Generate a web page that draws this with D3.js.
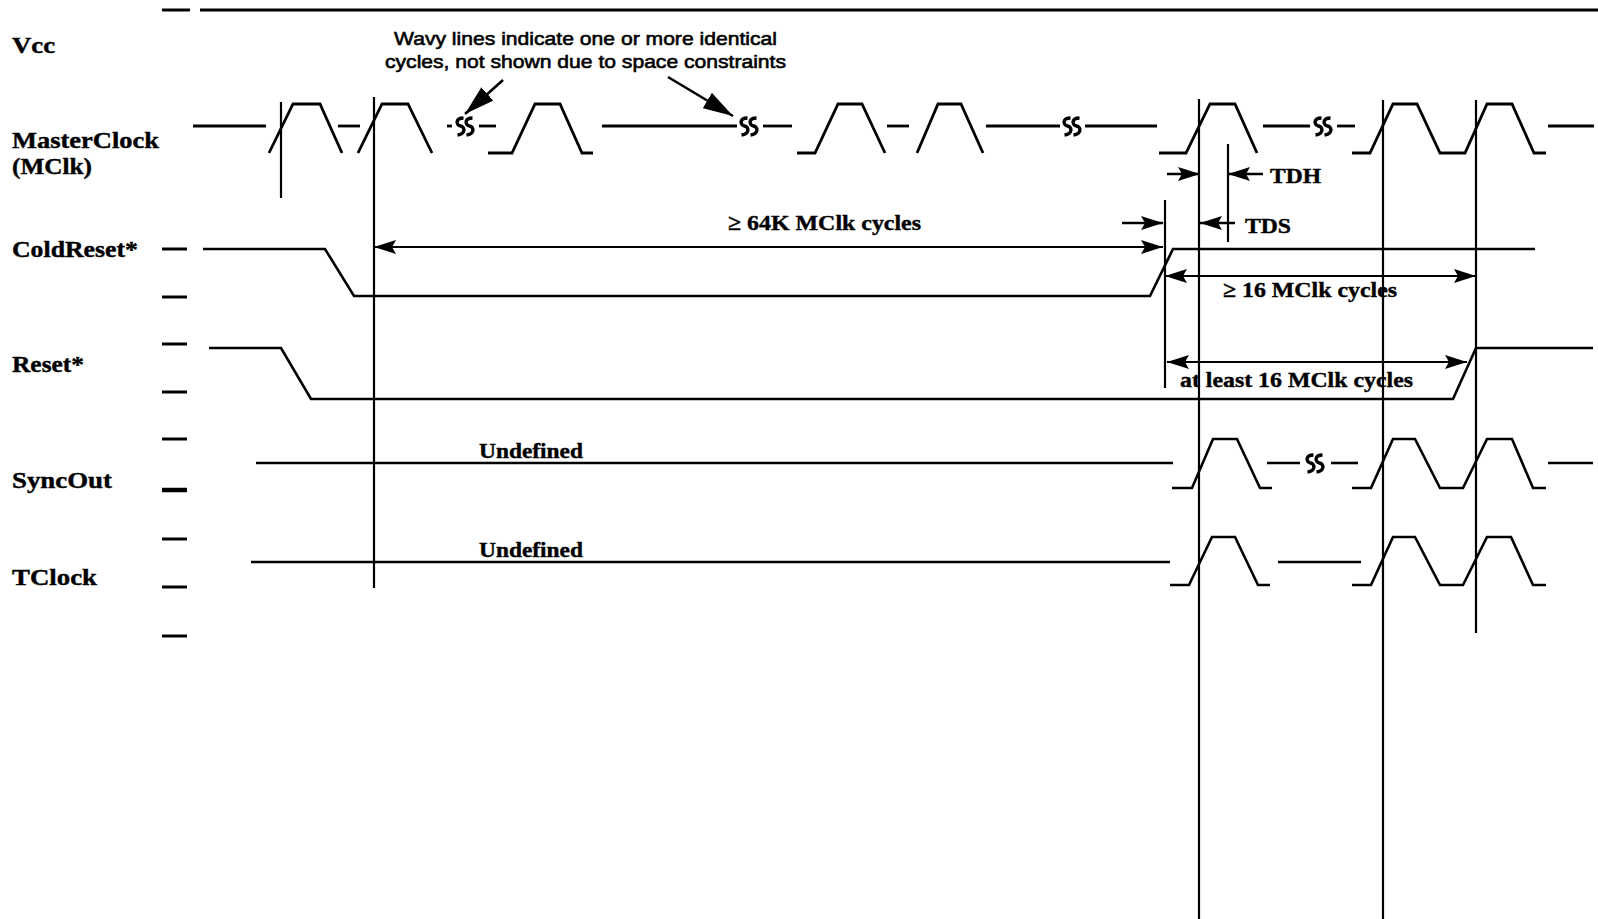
<!DOCTYPE html>
<html>
<head>
<meta charset="utf-8">
<script src="https://cdn.jsdelivr.net/npm/d3@7"></script>
<style>
    html, body { margin: 0; padding: 0; background: #fff; }
    svg { display: block; }
    .lbl { font-family: "Liberation Serif", "Times New Roman", serif; font-weight: bold; fill: #000; stroke: #000; stroke-width: 0.4; }
    .note { font-family: "Liberation Sans", Arial, sans-serif; fill: #000; }
</style>
</head>
<body>
<div id="chart"></div>
<script>
// 0. data
// signal rows, top to bottom
var signals = ["Vcc", "MasterClock", "ColdReset*", "Reset*", "SyncOut", "TClock"];
var signalLabels = [["Vcc"], ["MasterClock", "(MClk)"], ["ColdReset*"], ["Reset*"], ["SyncOut"], ["TClock"]];

// waveforms: list of segments, each segment a list of [time, level] (0 low, 0.5 stable, 1 high)
var vccWave = [
    [[162, 1], [190, 1]],
    [[200, 1], [1598, 1]]
];
var mclkWave = [
    [[193, 0.5], [266, 0.5]],
    [[269, 0], [293, 1], [320, 1], [342, 0]],
    [[338, 0.5], [360, 0.5]],
    [[358, 0], [382, 1], [408, 1], [432, 0]],
    [[447, 0.5], [452, 0.5]],
    [[479, 0.5], [496, 0.5]],
    [[488, 0], [512, 0], [535, 1], [560, 1], [582, 0], [593, 0]],
    [[602, 0.5], [737, 0.5]],
    [[763, 0.5], [792, 0.5]],
    [[797, 0], [815, 0], [838, 1], [862, 1], [885, 0]],
    [[887, 0.5], [909, 0.5]],
    [[917, 0], [938, 1], [961, 1], [983, 0]],
    [[986, 0.5], [1060, 0.5]],
    [[1085, 0.5], [1157, 0.5]],
    [[1159, 0], [1186, 0], [1210, 1], [1235, 1], [1257, 0]],
    [[1263, 0.5], [1310, 0.5]],
    [[1337, 0.5], [1355, 0.5]],
    [[1352, 0], [1370, 0], [1393, 1], [1417, 1], [1440, 0], [1465, 0], [1487, 1], [1512, 1], [1534, 0], [1546, 0]],
    [[1548, 0.5], [1594, 0.5]]
];
var mclkBreaks = [465, 749, 1072, 1323];
var coldResetWave = [
    [[203, 1], [325, 1], [354, 0], [1150, 0], [1173, 1], [1535, 1]]
];
var resetWave = [
    [[209, 1], [281, 1], [311, 0], [1453, 0], [1476, 1], [1593, 1]]
];
var syncOutWave = [
    [[256, 0.5], [1173, 0.5]],
    [[1172, 0], [1192, 0], [1213, 1], [1237, 1], [1260, 0], [1272, 0]],
    [[1267, 0.5], [1300, 0.5]],
    [[1331, 0.5], [1358, 0.5]],
    [[1352, 0], [1371, 0], [1393, 1], [1415, 1], [1440, 0], [1463, 0], [1487, 1], [1512, 1], [1533, 0], [1546, 0]],
    [[1548, 0.5], [1593, 0.5]]
];
var syncOutBreaks = [1315];
var tclockWave = [
    [[251, 0.5], [1170, 0.5]],
    [[1170, 0], [1189, 0], [1212, 1], [1235, 1], [1258, 0], [1270, 0]],
    [[1278, 0.5], [1361, 0.5]],
    [[1352, 0], [1371, 0], [1393, 1], [1415, 1], [1440, 0], [1463, 0], [1487, 1], [1511, 1], [1533, 0], [1546, 0]]
];
var undefinedAt = 479;  // "Undefined" label start

// reference edges (time of each vertical marker)
var markerTimes = [281, 374, 1165, 1199, 1228, 1383, 1476];

// dimension arrows
var spans = [
    {from: 374, to: 1163, label: "≥ 64K MClk cycles", at: 728},
    {from: 1165, to: 1476, label: "≥ 16 MClk cycles", at: 1223},
    {from: 1167, to: 1467, label: "at least 16 MClk cycles", at: 1180}
];
// setup / hold arrows: arrow in from the left, arrow in from the right
var holdSetup = [
    {name: "TDH", inFrom: 1167, inTo: 1200, backTo: 1228, backFrom: 1263},
    {name: "TDS", inFrom: 1122, inTo: 1163, backTo: 1200, backFrom: 1235}
];
var noteLines = ["Wavy lines indicate one or more identical", "cycles, not shown due to space constraints"];
var noteTargets = [465, 733];

// 0.1.size / layout
var W = 1598, H = 919;
var rowLevels = {            // y of [low, stable, high]
    "Vcc": [11, 11, 10],
    "MasterClock": [153, 126, 104],
    "ColdReset*": [296, 272, 249],
    "Reset*": [399, 373, 348],
    "SyncOut": [488, 463, 439],
    "TClock": [585, 562, 537]
};
var labelBase = {"Vcc": 53, "MasterClock": 148, "ColdReset*": 257, "Reset*": 372, "SyncOut": 488, "TClock": 585};
var labelWidth = {"Vcc": 43, "MasterClock": 147, "(MClk)": 80, "ColdReset*": 126, "Reset*": 72, "SyncOut": 100, "TClock": 85};
var tickY = [249, 297, 344, 392, 439, 490, 539, 587, 636];
var markerExtent = [[102, 198], [97, 588], [200, 388], [99, 919], [144, 242], [100, 919], [100, 633]];

// 1.Add DOM elements
var svg = d3.select("#chart").append("svg").attr("width", W).attr("height", H);
var defs = svg.append("defs");
defs.append("marker").attr("id", "head")
    .attr("markerUnits", "userSpaceOnUse")
    .attr("markerWidth", 22).attr("markerHeight", 14)
    .attr("refX", 22).attr("refY", 7)
    .attr("orient", "auto-start-reverse")
    .append("path").attr("d", "M0,0L22,7L0,14L4,7Z").attr("fill", "#000");
defs.append("marker").attr("id", "bighead")
    .attr("markerUnits", "userSpaceOnUse")
    .attr("markerWidth", 30).attr("markerHeight", 18)
    .attr("refX", 30).attr("refY", 9)
    .attr("orient", "auto")
    .append("path").attr("d", "M0,0L30,9L0,18Z").attr("fill", "#000");

var x = d3.scaleLinear().domain([0, W]).range([0, W]);
function yScale(name) {
    return d3.scaleLinear().domain([0, 0.5, 1]).range(rowLevels[name]);
}

// labels
signals.forEach(function (s, i) {
    signalLabels[i].forEach(function (txt, j) {
        svg.append("text").attr("class", "lbl")
            .attr("x", 12).attr("y", labelBase[s] + j * 26)
            .attr("font-size", 23)
            .attr("textLength", labelWidth[txt])
            .attr("lengthAdjust", "spacingAndGlyphs")
            .text(txt);
    });
});

// left ticks
svg.selectAll(".tick").data(tickY).enter().append("line")
    .attr("x1", 162).attr("x2", 187)
    .attr("y1", function (d) { return d; }).attr("y2", function (d) { return d; })
    .attr("stroke", "#000").attr("stroke-width", function (d, i) { return i == 5 ? 4.5 : 3; });

// waveforms
var waves = [
    {name: "Vcc", data: vccWave, w: 3},
    {name: "MasterClock", data: mclkWave, w: 2.8},
    {name: "ColdReset*", data: coldResetWave, w: 2.6},
    {name: "Reset*", data: resetWave, w: 2.6},
    {name: "SyncOut", data: syncOutWave, w: 2.6},
    {name: "TClock", data: tclockWave, w: 2.6}
];
waves.forEach(function (wv) {
    var y = yScale(wv.name);
    var line = d3.line().x(function (d) { return x(d[0]); }).y(function (d) { return y(d[1]); });
    svg.append("g").selectAll("path").data(wv.data).enter().append("path")
        .attr("d", line)
        .attr("fill", "none").attr("stroke", "#000")
        .attr("stroke-width", wv.w)
        .attr("stroke-linejoin", "miter");
});

// wavy break glyph
function wavy(t, name) {
    var cx = x(t), cy = yScale(name)(0.5);
    [-4.5, 4.5].forEach(function (o) {
        var c = cx + o;
        svg.append("path")
            .attr("d", "M" + (c + 3) + "," + (cy - 8) +
                "C" + (c - 5) + "," + (cy - 8) + " " + (c - 5) + "," + (cy - 1) + " " + c + "," + cy +
                "C" + (c + 5) + "," + (cy + 1) + " " + (c + 5) + "," + (cy + 8) + " " + (c - 3) + "," + (cy + 9))
            .attr("fill", "none").attr("stroke", "#000").attr("stroke-width", 3.4);
    });
}
mclkBreaks.forEach(function (t) { wavy(t, "MasterClock"); });
syncOutBreaks.forEach(function (t) { wavy(t, "SyncOut"); });

// Undefined labels
["SyncOut", "TClock"].forEach(function (s) {
    svg.append("text").attr("class", "lbl")
        .attr("x", x(undefinedAt)).attr("y", yScale(s)(0.5) - 5)
        .attr("font-size", 22)
        .attr("textLength", 104).attr("lengthAdjust", "spacingAndGlyphs")
        .text("Undefined");
});

// vertical markers
svg.selectAll(".marker").data(markerTimes).enter().append("line")
    .attr("x1", function (d) { return x(d); }).attr("x2", function (d) { return x(d); })
    .attr("y1", function (d, i) { return markerExtent[i][0]; })
    .attr("y2", function (d, i) { return markerExtent[i][1]; })
    .attr("stroke", "#000").attr("stroke-width", 2.2);

// dimension arrows
var spanY = [247, 276, 362], spanTextY = [230, 297, 387], spanTextW = [193, 174, 233];
spans.forEach(function (sp, i) {
    svg.append("line")
        .attr("x1", x(sp.from)).attr("x2", x(sp.to))
        .attr("y1", spanY[i]).attr("y2", spanY[i])
        .attr("stroke", "#000").attr("stroke-width", 2.2)
        .attr("marker-start", "url(#head)").attr("marker-end", "url(#head)");
    svg.append("text").attr("class", "lbl")
        .attr("x", x(sp.at)).attr("y", spanTextY[i])
        .attr("font-size", 22)
        .attr("textLength", spanTextW[i]).attr("lengthAdjust", "spacingAndGlyphs")
        .text(sp.label);
});

// hold / setup arrows
var hsY = [174, 223], hsTextY = [183, 233], hsTextX = [1270, 1245], hsTextW = [51, 46];
holdSetup.forEach(function (h, i) {
    svg.append("line")
        .attr("x1", x(h.inFrom)).attr("x2", x(h.inTo))
        .attr("y1", hsY[i]).attr("y2", hsY[i])
        .attr("stroke", "#000").attr("stroke-width", 2.6)
        .attr("marker-end", "url(#head)");
    svg.append("line")
        .attr("x1", x(h.backFrom)).attr("x2", x(h.backTo))
        .attr("y1", hsY[i]).attr("y2", hsY[i])
        .attr("stroke", "#000").attr("stroke-width", 2.6)
        .attr("marker-end", "url(#head)");
    svg.append("text").attr("class", "lbl")
        .attr("x", hsTextX[i]).attr("y", hsTextY[i])
        .attr("font-size", 22)
        .attr("textLength", hsTextW[i]).attr("lengthAdjust", "spacingAndGlyphs")
        .text(h.name);
});

// note about wavy lines
var noteX = [394, 385], noteY = [45, 68], noteW = [383, 401];
noteLines.forEach(function (t, i) {
    svg.append("text").attr("class", "note")
        .attr("x", noteX[i]).attr("y", noteY[i])
        .attr("font-size", 19)
        .attr("stroke", "#000").attr("stroke-width", 0.6)
        .attr("textLength", noteW[i]).attr("lengthAdjust", "spacingAndGlyphs")
        .text(t);
});
var noteFrom = [[503, 80], [668, 77]], noteTo = [[0, 114], [0, 116]];
noteTargets.forEach(function (t, i) {
    svg.append("line")
        .attr("x1", noteFrom[i][0]).attr("y1", noteFrom[i][1])
        .attr("x2", x(t)).attr("y2", noteTo[i][1])
        .attr("stroke", "#000").attr("stroke-width", 2.6)
        .attr("marker-end", "url(#bighead)");
});
</script>
</body>
</html>
